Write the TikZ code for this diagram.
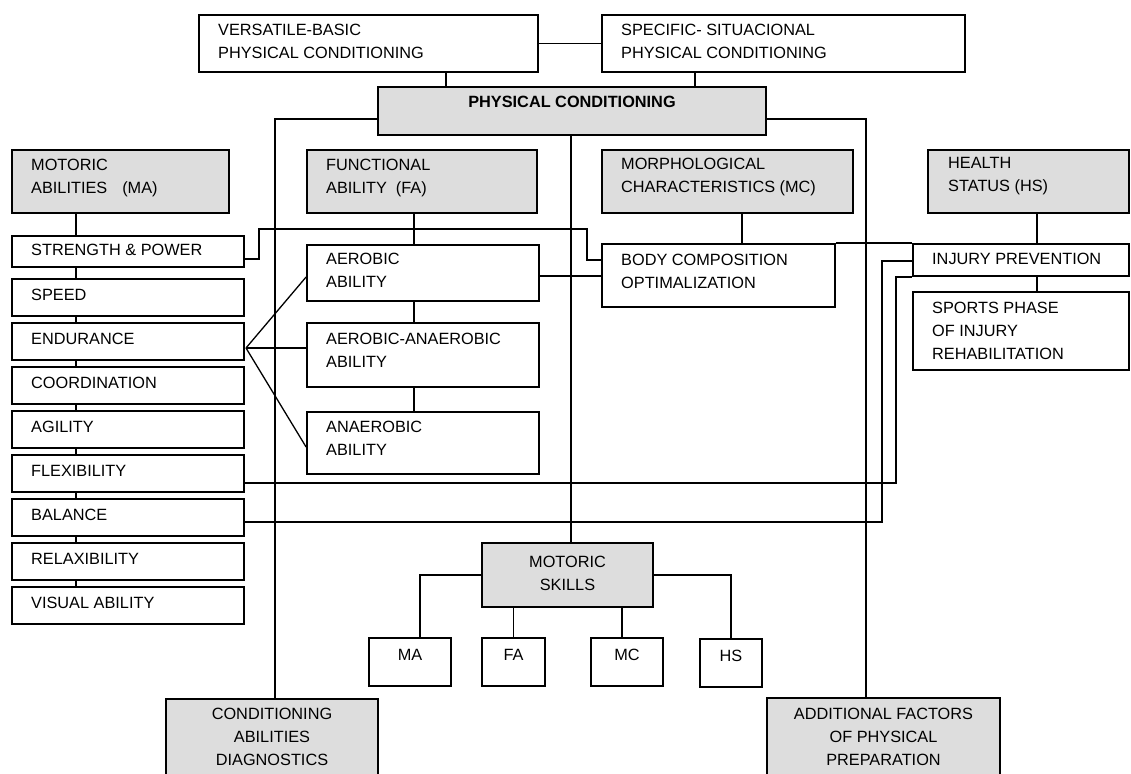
\documentclass[tikz,border=0pt]{standalone}
\usepackage{fontspec}
\setmainfont{Liberation Sans}
\usetikzlibrary{fit}
\definecolor{boxgray}{RGB}{221,221,221}
\newcommand\mybox[6]{%
  \path (#2,#3) coordinate (#1-nw) (#4,#5) coordinate (#1-se);
  \node[#6, fit=(#1-nw)(#1-se), inner sep=0pt] (#1) {};}
\begin{document}
\begin{tikzpicture}[x=1pt,y=-1pt,
  wbox/.style={draw=black, line width=1.8pt, fill=white},
  gbox/.style={wbox, fill=boxgray},
  txt/.style={inner sep=0pt, align=left, anchor=west, font=\fontsize{16.3}{23}\selectfont},
  ctxt/.style={txt, align=center, anchor=center},
  conn/.style={line width=1.3pt}]
\useasboundingbox[fill=white] (0,0) rectangle (1131,773);
% boxes
\mybox{VB}{199}{15}{538}{72}{wbox}
\mybox{SS}{602}{15}{965}{72}{wbox}
\mybox{PC}{378}{87}{766}{135}{gbox}
\mybox{MAh}{12}{150}{229}{213}{gbox}
\mybox{FAh}{307}{150}{537}{213}{gbox}
\mybox{MCh}{602}{150}{853}{213}{gbox}
\mybox{HSh}{928}{150}{1129}{213}{gbox}
\mybox{STR}{12}{236}{244}{267}{wbox}
\mybox{SPD}{12}{279}{244}{316}{wbox}
\mybox{END}{12}{323}{244}{360}{wbox}
\mybox{COO}{12}{367}{244}{404}{wbox}
\mybox{AGI}{12}{411}{244}{448}{wbox}
\mybox{FLE}{12}{455}{244}{492}{wbox}
\mybox{BAL}{12}{499}{244}{536}{wbox}
\mybox{REL}{12}{543}{244}{580}{wbox}
\mybox{VIS}{12}{587}{244}{624}{wbox}
\mybox{AER}{307}{245}{539}{301}{wbox}
\mybox{AAN}{307}{323}{539}{387}{wbox}
\mybox{ANA}{307}{412}{539}{474}{wbox}
\mybox{BOD}{602}{244}{835}{307}{wbox}
\mybox{INJ}{913}{244}{1129}{276}{wbox}
\mybox{SPO}{913}{292}{1129}{370}{wbox}
\mybox{MS}{482}{543}{653}{607}{gbox}
\mybox{sMA}{369}{638}{451}{686}{wbox}
\mybox{sFA}{482}{638}{545}{686}{wbox}
\mybox{sMC}{591}{638}{663}{686}{wbox}
\mybox{sHS}{700}{639}{762}{687}{wbox}
\mybox{CAD}{166}{699}{378}{800}{gbox}
\mybox{ADD}{767}{698}{1000}{800}{gbox}
% texts
\node[txt] (VB-t) at (218,41.5) {VERSATILE-BASIC\\PHYSICAL CONDITIONING};
\node[txt] (SS-t) at (621,41.5) {SPECIFIC- SITUACIONAL\\PHYSICAL CONDITIONING};
\node[ctxt, font=\fontsize{16.3}{23}\selectfont\bfseries] (PC-t) at (572,102) {PHYSICAL CONDITIONING};
\node[txt] (MAh-t) at (31,177.5) {MOTORIC\\ABILITIES\hspace{15pt}(MA)};
\node[txt] (FAh-t) at (326,177.5) {FUNCTIONAL\\ABILITY\ \ (FA)};
\node[txt] (MCh-t) at (621,176.5) {MORPHOLOGICAL\\CHARACTERISTICS (MC)};
\node[txt] (HSh-t) at (948,176) {HEALTH\\STATUS (HS)};
\node[txt] (STR-t) at (31,250) {STRENGTH \& POWER};
\node[txt] (SPD-t) at (31,294.5) {SPEED};
\node[txt] (END-t) at (31,338.5) {ENDURANCE};
\node[txt] (COO-t) at (31,382.5) {COORDINATION};
\node[txt] (AGI-t) at (31,426.5) {AGILITY};
\node[txt] (FLE-t) at (31,470.5) {FLEXIBILITY};
\node[txt] (BAL-t) at (31,514.5) {BALANCE};
\node[txt] (REL-t) at (31,558.5) {RELAXIBILITY};
\node[txt] (VIS-t) at (31,602.5) {VISUAL ABILITY};
\node[txt] (AER-t) at (326,270.5) {AEROBIC\\ABILITY};
\node[txt] (AAN-t) at (326,350) {AEROBIC-ANAEROBIC\\ABILITY};
\node[txt] (ANA-t) at (326,438) {ANAEROBIC\\ABILITY};
\node[txt] (BOD-t) at (621,271.5) {BODY COMPOSITION\\OPTIMALIZATION};
\node[txt] (INJ-t) at (932,258.5) {INJURY PREVENTION};
\node[txt] (SPO-t) at (932,331) {SPORTS PHASE\\OF INJURY\\REHABILITATION};
\node[ctxt] (MS-t) at (567.5,573.5) {MOTORIC\\SKILLS};
\node[ctxt] (sMA-t) at (410,655) {MA};
\node[ctxt] (sFA-t) at (513.5,655) {FA};
\node[ctxt] (sMC-t) at (627,655) {MC};
\node[ctxt] (sHS-t) at (731,656) {HS};
\node[ctxt] (CAD-t) at (272,737) {CONDITIONING\\ABILITIES\\DIAGNOSTICS};
\node[ctxt] (ADD-t) at (883.5,737) {ADDITIONAL FACTORS\\OF PHYSICAL\\PREPARATION};
% helper coordinates
\coordinate (vbx) at (446,0);
\coordinate (ssx) at (695,0);
\coordinate (pcx) at (571,0);
\coordinate (cadx) at (275,0);
\coordinate (addx) at (866,0);
\coordinate (max) at (76,0);
\coordinate (fax) at (414,0);
\coordinate (mcx) at (742,0);
\coordinate (hsx) at (1037,0);
\coordinate (strA) at (259,229);
\coordinate (strB) at (587,260);
\coordinate (fan) at (246,348);
\coordinate (flx) at (896,0);
\coordinate (bax) at (882,0);
\coordinate (msl) at (420,0);
\coordinate (mcl) at (622,0);
% connectors
\draw[conn] (VB.east) -- (SS.west);
\draw[conn] (VB.south -| vbx) -- (PC.north -| vbx);
\draw[conn] (SS.south -| ssx) -- (PC.north -| ssx);
\draw[conn] ([yshift=-8pt]PC.west) -| (CAD.north -| cadx);
\draw[conn] ([yshift=-8pt]PC.east) -| (ADD.north -| addx);
\draw[conn] (PC.south -| pcx) -- (MS.north -| pcx);
\foreach \a/\b in {MAh/STR,STR/SPD,SPD/END,END/COO,COO/AGI,AGI/FLE,FLE/BAL,BAL/REL,REL/VIS}
  \draw[conn] (\a.south -| max) -- (\b.north -| max);
\foreach \a/\b in {FAh/AER,AER/AAN,AAN/ANA}
  \draw[conn] (\a.south -| fax) -- (\b.north -| fax);
\draw[conn] (MCh.south -| mcx) -- (BOD.north -| mcx);
\draw[conn] (HSh.south -| hsx) -- (INJ.north -| hsx);
\draw[conn] (INJ.south -| hsx) -- (SPO.north -| hsx);
\draw[conn] ([yshift=-7.5pt]STR.east) -| (strA) -| (strB) -- (strB -| BOD.west);
\draw[conn] ([yshift=-3pt]AER.east) -- ([yshift=-3pt]AER.east -| BOD.west);
\draw[conn] (fan) -- ([yshift=-4pt]AER.west);
\draw[conn] (fan) -- (fan -| AAN.west);
\draw[conn] (fan) -- ([yshift=-4pt]ANA.west);
\draw[conn] (BOD.north east) -- (INJ.north west);
\draw[conn] ([yshift=-9.5pt]FLE.east) -| (INJ.south west -| flx) -- (INJ.south west);
\draw[conn] ([yshift=-4.5pt]BAL.east) -| ([yshift=-1pt]INJ.west -| bax) -- ([yshift=-1pt]INJ.west);
\draw[conn] (MS.west) -| (sMA.north -| msl);
\draw[conn] (MS.south -| sFA.north) -- (sFA.north);
\draw[conn] (MS.south -| mcl) -- (sMC.north -| mcl);
\draw[conn] (MS.east) -| (sHS.north);
\end{tikzpicture}
\end{document}
